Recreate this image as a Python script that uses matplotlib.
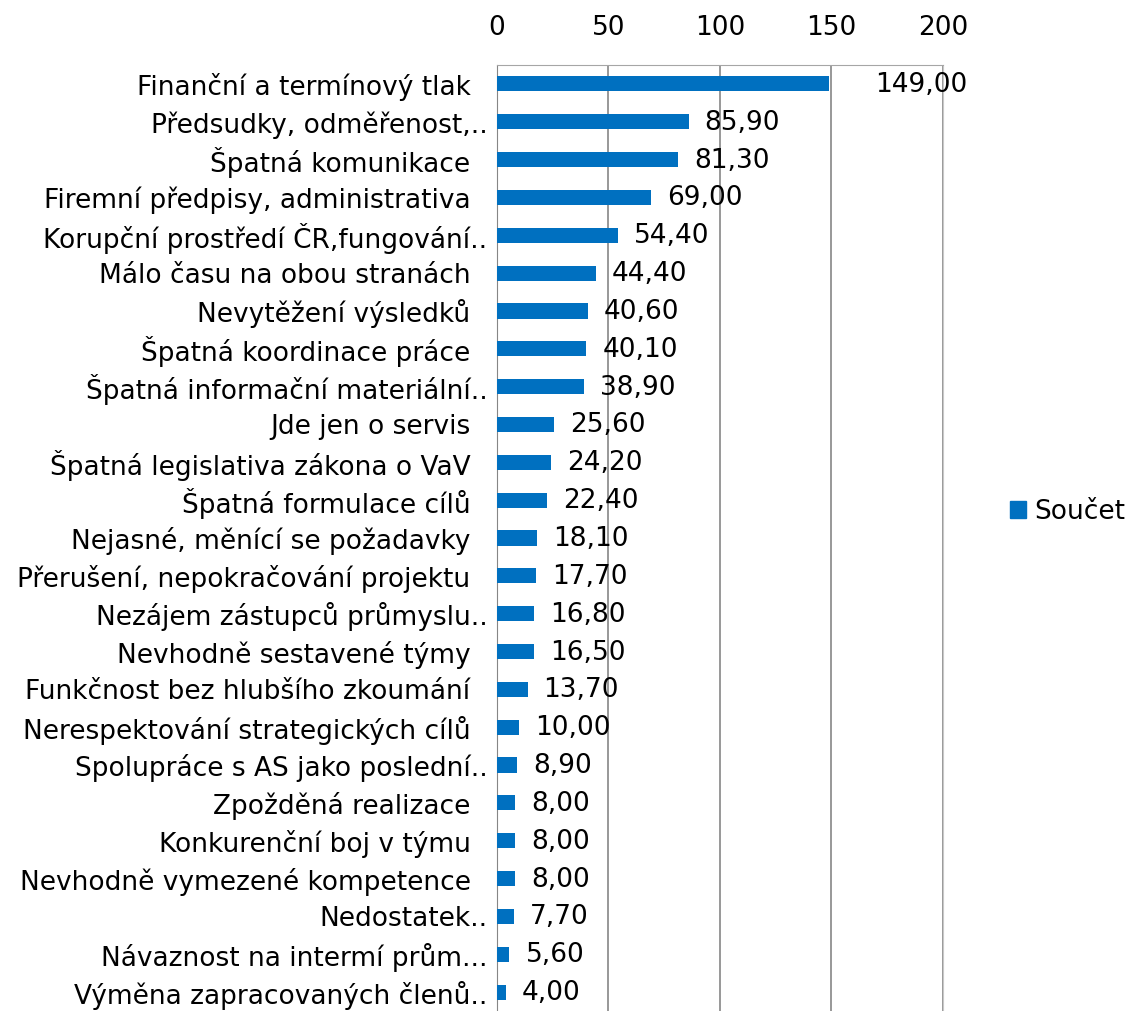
import matplotlib.pyplot as plt
from matplotlib.patches import Patch

categories = [
    'Finanční a termínový tlak  ',
    'Předsudky, odměřenost,..',
    'Špatná komunikace  ',
    'Firemní předpisy, administrativa  ',
    'Korupční prostředí ČR,fungování..',
    'Málo času na obou stranách  ',
    'Nevytěžení výsledků  ',
    'Špatná koordinace práce  ',
    'Špatná informační materiální..',
    'Jde jen o servis  ',
    'Špatná legislativa zákona o VaV  ',
    'Špatná formulace cílů  ',
    'Nejasné, měnící se požadavky  ',
    'Přerušení, nepokračování projektu  ',
    'Nezájem zástupců průmyslu..',
    'Nevhodně sestavené týmy  ',
    'Funkčnost bez hlubšího zkoumání  ',
    'Nerespektování strategických cílů  ',
    'Spolupráce s AS jako poslední..',
    'Zpožděná realizace  ',
    'Konkurenční boj v týmu  ',
    'Nevhodně vymezené kompetence  ',
    'Nedostatek..',
    'Návaznost na intermí prům...',
    'Výměna zapracovaných členů..',
]
values = [149.0, 85.9, 81.3, 69.0, 54.4, 44.4, 40.6, 40.1, 38.9, 25.6, 24.2, 22.4,
          18.1, 17.7, 16.8, 16.5, 13.7, 10.0, 8.9, 8.0, 8.0, 8.0, 7.7, 5.6, 4.0]

blue = '#0070C0'
fs = 19
plt.rcParams['font.family'] = ['DejaVu Sans']

fig = plt.figure(figsize=(11.27, 10.11), dpi=100)
ax = fig.add_axes([0.441, 0.0, 0.8367 - 0.441, 1 - 65 / 1011])

ypos = list(range(len(categories)))
ax.barh(ypos, values, height=0.4, color=blue, zorder=3)

for y, v in zip(ypos, values):
    off = 46 if v > 140 else 16
    ax.annotate(f'{v:.2f}'.replace('.', ','), (v, y), xytext=(off, -1),
                textcoords='offset pixels', va='center', ha='left',
                fontsize=fs, color='black', zorder=4, annotation_clip=False)

ax.set_ylim(len(categories) - 0.5, -0.5)
ax.set_xlim(0, 200)
ax.set_yticks(ypos)
ax.set_yticklabels(categories, fontsize=fs)
ax.set_xticks([0, 50, 100, 150, 200])
ax.xaxis.tick_top()
ax.tick_params(axis='x', length=0, pad=17, labelsize=fs)
ax.tick_params(axis='y', length=0, pad=7)

ax.grid(axis='x', color='#868686', linewidth=1.2, zorder=0)
ax.spines['bottom'].set_visible(False)
ax.spines['left'].set_color('#868686')
ax.spines['top'].set_color('#a6a6a6')
ax.spines['right'].set_color('#c8c8c8')

fig.legend(handles=[Patch(color=blue, label='Součet')], loc='center right',
           bbox_to_anchor=(1125 / 1127, 1 - 512 / 1011), frameon=False,
           fontsize=fs, handlelength=0.6, handleheight=0.6, handletextpad=0.3,
           borderpad=0, borderaxespad=0)

fig.savefig('out.png', dpi=100)
